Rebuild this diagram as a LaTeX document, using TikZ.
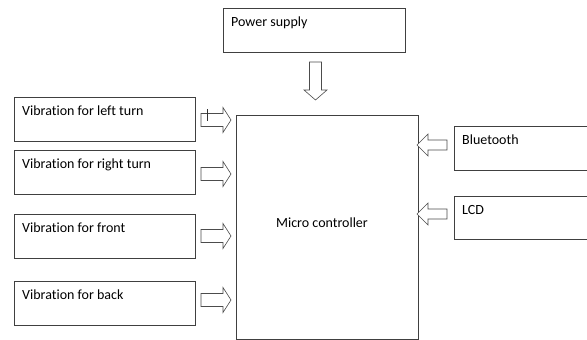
\documentclass[tikz,border=0pt]{standalone}
\usepackage{fontspec}
\setmainfont[Ligatures=NoCommon]{Carlito}
\begin{document}
\begin{tikzpicture}[x=1pt,y=-1pt,
  blk/.style={draw=black!75,line width=0.8pt,inner sep=0pt},
  lbl/.style={anchor=north west,font=\fontsize{14}{16}\selectfont,inner sep=0pt},
  barrow/.style={draw=black!70,line width=0.6pt,fill=white}]
\useasboundingbox (0,0) rectangle (587,340);
% boxes
\node[blk,minimum width=181,minimum height=44,anchor=north west] (b1) at (14,97) {};
\node[blk,minimum width=181,minimum height=44,anchor=north west] (b2) at (14,150) {};
\node[blk,minimum width=181,minimum height=44,anchor=north west] (b3) at (14,214) {};
\node[blk,minimum width=181,minimum height=44,anchor=north west] (b4) at (14,281) {};
\node[blk,minimum width=182,minimum height=44,anchor=north west] (ps) at (223,8) {};
\node[blk,minimum width=182,minimum height=224,anchor=north west] (mc) at (236,115) {};
\node[blk,minimum width=140,minimum height=44,anchor=north west] (bt) at (454,126) {};
\node[blk,minimum width=140,minimum height=43,anchor=north west] (lcd) at (454,196) {};
% labels
\node[lbl] (t1) at (22,106) {Vibration for left turn};
\node[lbl] (t2) at (22,159) {Vibration for right turn};
\node[lbl] (t3) at (22,223) {Vibration for front};
\node[lbl] (t4) at (22,290) {Vibration for back};
\node[lbl] (tps) at (231,17) {Power supply};
\node[lbl] (tbt) at (462,135) {Bluetooth};
\node[lbl] (tlcd) at (462,205) {LCD};
\node[font=\fontsize{14}{16}\selectfont] (tmc) at (322,223) {Micro controller};
% block arrows (right-pointing)
\foreach \yc/\nm in {120/a1,174/a2,236/a3,300/a4}{
  \coordinate (\nm) at (201,\yc);
  \draw[barrow] (\nm) ++(0,-6.5) -- ++(22,0) -- ++(0,-6) -- ++(8,12.5) -- ++(-8,12.5) -- ++(0,-6) -- ++(-22,0) -- cycle;
}
\draw[black!80,line width=0.6pt] (207,109) -- (207,121);
% left-pointing arrows
\foreach \yc/\nm in {145/r1,214/r2}{
  \coordinate (\nm) at (447,\yc);
  \draw[barrow] (\nm) ++(0,-5) -- ++(-19,0) -- ++(0,-6) -- ++(-11,11) -- ++(11,11) -- ++(0,-6) -- ++(19,0) -- cycle;
}
% down arrow
\coordinate (pd) at (315.5,62);
\draw[barrow] (pd) ++(-6,0) -- ++(12,0) -- ++(0,28) -- ++(5.5,0) -- ++(-11.5,10) -- ++(-11.5,-10) -- ++(5.5,0) -- cycle;
\end{tikzpicture}
\end{document}
